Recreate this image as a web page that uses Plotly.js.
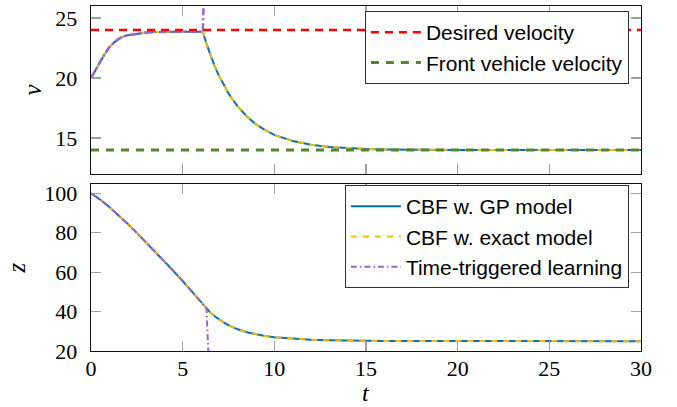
<!DOCTYPE html>
<html>
<head>
<meta charset="utf-8">
<script src="https://cdn.plot.ly/plotly-3.0.1.min.js"></script>
<style>html,body{margin:0;padding:0;background:#fff;}#chart{width:677px;height:407px;}</style>
</head>
<body>
<div id="chart"></div>
<script>
// time samples
var tV = [0, 0.25, 0.5, 0.75, 1, 1.25, 1.5, 1.75, 2, 2.5, 3, 3.5, 4, 5, 6, 6.1, 6.3, 6.5, 6.75, 7, 7.25, 7.5, 7.75, 8, 8.5, 9, 9.5, 10, 11, 12, 13, 14, 15, 16, 18, 20, 25, 30];
// velocity, CBF with GP model
var vGP = [20, 20.7, 21.3, 22.0, 22.55, 22.95, 23.25, 23.45, 23.57, 23.7, 23.79, 23.83, 23.85, 23.86, 23.86, 23.86, 22.86, 21.98, 20.95, 20.14, 19.4, 18.72, 18.15, 17.63, 16.79, 16.14, 15.65, 15.26, 14.75, 14.44, 14.26, 14.15, 14.09, 14.05, 14.02, 14.01, 14.0, 14.0];
// velocity, CBF with exact model
var vExact = [20, 20.7, 21.3, 22.0, 22.55, 22.95, 23.25, 23.45, 23.57, 23.7, 23.79, 23.83, 23.85, 23.86, 23.86, 23.86, 22.86, 21.98, 20.95, 20.14, 19.4, 18.72, 18.15, 17.63, 16.79, 16.14, 15.65, 15.26, 14.75, 14.44, 14.26, 14.15, 14.09, 14.05, 14.02, 14.01, 14.0, 14.0];
// velocity, time-triggered learning (diverges after ~6.1 s)
var tVTT = [0, 0.25, 0.5, 0.75, 1, 1.25, 1.5, 1.75, 2, 2.5, 3, 3.5, 4, 5, 6, 6.1, 6.17];
var vTT = [20, 20.7, 21.3, 22.0, 22.55, 22.95, 23.25, 23.45, 23.57, 23.7, 23.79, 23.83, 23.85, 23.86, 23.86, 23.86, 28];
// reference velocities
var tRef = [0, 30];
var vDesired = [24, 24];
var vFront = [14, 14];

// distance z
var tZ = [0, 0.5, 1, 1.5, 2, 2.5, 3, 3.5, 4, 4.5, 5, 5.5, 6, 6.1, 6.3, 6.5, 6.75, 7, 7.25, 7.5, 7.75, 8, 8.5, 9, 9.5, 10, 11, 12, 13, 14, 15, 16, 18, 20, 25, 30];
var zGP = [100, 96.8, 93.0, 88.9, 84.5, 79.9, 75.2, 70.4, 65.5, 60.6, 55.5, 50.1, 44.5, 43.5, 41.5, 39.6, 37.6, 35.9, 34.4, 33.1, 32.0, 31.0, 29.5, 28.4, 27.6, 27.0, 26.2, 25.7, 25.4, 25.2, 25.1, 25.05, 25.02, 25.0, 25.0, 25.0];
var zExact = [100, 96.8, 93.0, 88.9, 84.5, 79.9, 75.2, 70.4, 65.5, 60.6, 55.5, 50.1, 44.5, 43.5, 41.5, 39.6, 37.6, 35.9, 34.4, 33.1, 32.0, 31.0, 29.5, 28.4, 27.6, 27.0, 26.2, 25.7, 25.4, 25.2, 25.1, 25.05, 25.02, 25.0, 25.0, 25.0];
var tZTT = [0, 0.5, 1, 1.5, 2, 2.5, 3, 3.5, 4, 4.5, 5, 5.5, 6, 6.1, 6.3, 6.42];
var zTT = [100, 96.8, 93.0, 88.9, 84.5, 79.9, 75.2, 70.4, 65.5, 60.6, 55.5, 50.1, 44.5, 43.5, 41.5, 15];

var xTicks = [0, 5, 10, 15, 20, 25, 30];
var vTicks = [15, 20, 25];
var zTicks = [20, 40, 60, 80, 100];

var names = ['Desired velocity', 'Front vehicle velocity', 'CBF w. GP model', 'CBF w. exact model', 'Time-triggered learning'];
var xLabel = '<i>t</i>';

var cBlue = '#0072BD', cYellow = '#F2BE00', cPurple = '#9966CC', cRed = '#FF0000', cGreen = '#55862F';

var traces = [
  {x: tV, y: vGP, xaxis: 'x', yaxis: 'y', mode: 'lines', line: {color: cBlue, width: 2}, showlegend: false},
  {x: tV, y: vExact, xaxis: 'x', yaxis: 'y', mode: 'lines', line: {color: cYellow, width: 2, dash: '6px,6px'}, showlegend: false},
  {x: tVTT, y: vTT, xaxis: 'x', yaxis: 'y', mode: 'lines', line: {color: cPurple, width: 2.5, dash: '7px,3px,2px,3px'}, showlegend: false},
  {x: tRef, y: vDesired, xaxis: 'x', yaxis: 'y', mode: 'lines', name: names[0], line: {color: cRed, width: 2.5, dash: '8px,6px'}, legend: 'legend'},
  {x: tRef, y: vFront, xaxis: 'x', yaxis: 'y', mode: 'lines', name: names[1], line: {color: cGreen, width: 3, dash: '8px,7px'}, legend: 'legend'},
  {x: tZ, y: zGP, xaxis: 'x2', yaxis: 'y2', mode: 'lines', name: names[2], line: {color: cBlue, width: 2}, legend: 'legend2'},
  {x: tZ, y: zExact, xaxis: 'x2', yaxis: 'y2', mode: 'lines', name: names[3], line: {color: cYellow, width: 2, dash: '6px,6px'}, legend: 'legend2'},
  {x: tZTT, y: zTT, xaxis: 'x2', yaxis: 'y2', mode: 'lines', name: names[4], line: {color: cPurple, width: 2, dash: '6px,3px,1.5px,3px'}, legend: 'legend2'}
];

var serif = '"Liberation Serif", "Times New Roman", serif';
var sans = '"Liberation Sans", Arial, Helvetica, sans-serif';
var axCommon = {
  showline: true, linecolor: '#111', linewidth: 1.3, mirror: 'allticks',
  ticks: 'inside', ticklen: 10, tickcolor: '#a0a0a0', tickwidth: 1.2,
  showgrid: false, zeroline: false,
  tickfont: {family: serif, size: 22, color: '#000'}
};
function ax(extra) { var o = {}; for (var k in axCommon) o[k] = axCommon[k]; for (var k2 in extra) o[k2] = extra[k2]; return o; }

var legendCommon = {
  bgcolor: '#fff', bordercolor: '#333', borderwidth: 1,
  font: {family: sans, size: 21, color: '#000'},
  itemwidth: 50, xanchor: 'right', yanchor: 'top', tracegroupgap: 0
};
function lg(extra) { var o = {}; for (var k in legendCommon) o[k] = legendCommon[k]; for (var k2 in extra) o[k2] = extra[k2]; return o; }

var layout = {
  width: 677, height: 407,
  margin: {l: 91, r: 36, t: 6, b: 56},
  paper_bgcolor: '#fff', plot_bgcolor: '#fff',
  showlegend: true,
  xaxis: ax({domain: [0, 1], range: [0, 30], tickvals: xTicks, showticklabels: false, anchor: 'y'}),
  yaxis: ax({domain: [0.513, 1], range: [12, 26], tickvals: vTicks, anchor: 'x', ticklabelstandoff: 8,
    title: {text: '<i>v</i>', font: {family: serif, size: 25, color: '#000'}, standoff: 6}}),
  xaxis2: ax({domain: [0, 1], range: [0, 30], tickvals: xTicks, anchor: 'y2', ticklabelstandoff: -3}),
  yaxis2: ax({domain: [0, 0.484], range: [20, 104.7], tickvals: zTicks, anchor: 'x2', ticklabelstandoff: 8,
    title: {text: '<i>z</i>', font: {family: serif, size: 25, color: '#000'}, standoff: 11}}),
  legend: lg({x: 0.978, y: 0.9855}),
  legend2: lg({x: 0.978, y: 0.481}),
  annotations: [
    {text: xLabel, xref: 'paper', yref: 'paper', x: 0.5, y: -0.1217, xanchor: 'center', yanchor: 'middle', showarrow: false,
     borderpad: 0, font: {family: serif, size: 24, color: '#000'}}
  ]
};

Plotly.newPlot('chart', traces, layout, {displayModeBar: false, staticPlot: true});
</script>
</body>
</html>
